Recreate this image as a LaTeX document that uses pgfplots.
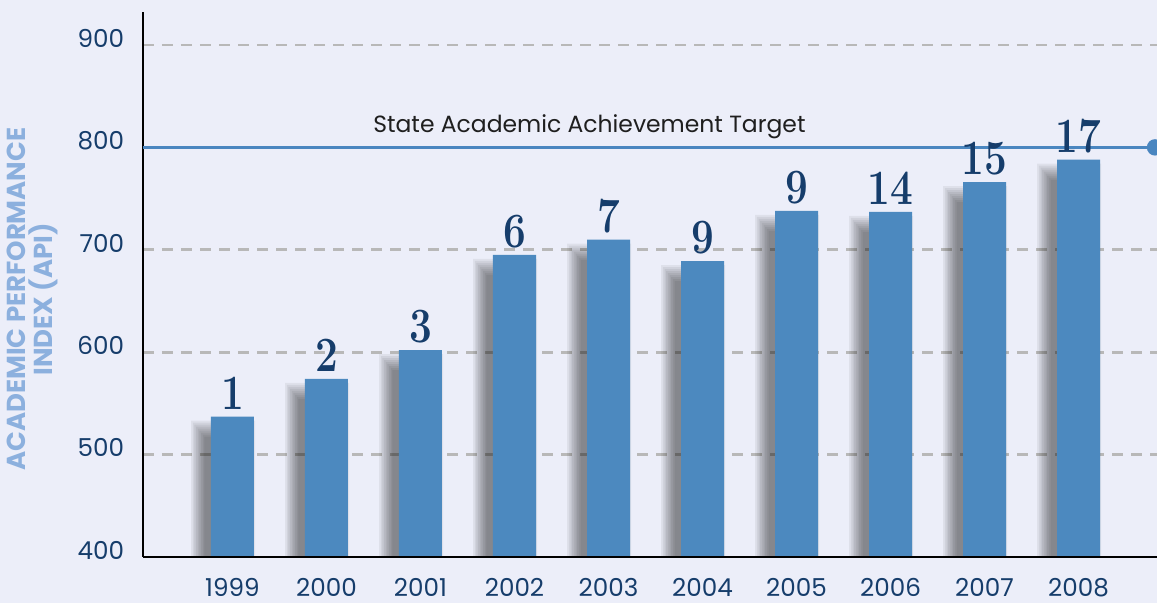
\documentclass[border=0pt]{standalone}
\usepackage{pgfplots}
\pgfplotsset{compat=1.18}
\usepackage{fontspec}
\newfontfamily\pop{Poppins}
\definecolor{bg}{HTML}{ECEEF9}
\definecolor{barc}{HTML}{4C89BF}
\definecolor{navy}{HTML}{163D6B}
\definecolor{lblue}{HTML}{8CB0DE}
\definecolor{tline}{HTML}{4A86C0}
\definecolor{gridc}{HTML}{B8B8B8}
\pgfplotstableread{
x y lab
0 537 1
1 574 2
2 602 3
3 695 6
4 710 7
5 689 9
6 738 9
7 737 14
8 766 15
9 788 17
}\api
\pgfplotsset{shad/.style 2 args={ybar, bar shift=-7pt, fill=black, draw=none, opacity=0.06, forget plot, yshift=#2, bar width=#1}}
\begin{document}
\begin{tikzpicture}
\useasboundingbox (0,0) rectangle (867.75pt,452.25pt);
\fill[bg] (0,0) rectangle (867.75pt,452.25pt);
\begin{axis}[
  at={(107.25pt,34.5pt)}, anchor=south west,
  scale only axis, width=760.5pt, height=408.75pt,
  xmin=-0.952, xmax=9.835, ymin=400, ymax=932.2,
  axis lines=left, axis line style={-, line width=2pt, black},
  xtick={0,...,9},
  xticklabels={1999,2000,2001,2002,2003,2004,2005,2006,2007,2008},
  ytick={400,500,...,900},
  major tick length=0pt,
  ymajorgrids,
  grid style={gridc, line width=2pt, dash pattern=on 8.25pt off 6pt},
  tick label style={font=\pop\fontsize{18.5}{20}\selectfont, text=navy},
  yticklabel style={anchor=east, inner sep=0pt, xshift=-14pt, yshift=5pt},
  xticklabel style={anchor=north, inner sep=0pt, yshift=-15.5pt},
  /pgf/number format/assume math mode=true,
  ylabel={ACADEMIC PERFORMANCE\\INDEX (API)},
  every axis y label/.style={at={(rel axis cs:0,0.473)}, xshift=-83pt, rotate=90, anchor=center, align=center, font=\pop\bfseries\fontsize{19.5}{20.5}\selectfont, text=lblue},
]
\addplot[shad={28pt}{-15pt}] table[x=x, y=y] {\api};
\addplot[shad={30.5pt}{-13.5pt}] table[x=x, y=y] {\api};
\addplot[shad={33pt}{-12pt}] table[x=x, y=y] {\api};
\addplot[shad={35.5pt}{-10.5pt}] table[x=x, y=y] {\api};
\addplot[shad={38pt}{-9pt}] table[x=x, y=y] {\api};
\addplot[shad={40.5pt}{-7.5pt}] table[x=x, y=y] {\api};
\addplot[shad={43pt}{-6pt}] table[x=x, y=y] {\api};
\addplot[shad={45.5pt}{-4.5pt}] table[x=x, y=y] {\api};
\addplot[shad={48pt}{-3pt}] table[x=x, y=y] {\api};
\addplot[ybar, bar width=32.25pt, bar shift=0pt, fill=barc, draw=none,
  nodes near coords={\scalebox{0.82}[1]{\pgfplotspointmeta}}, point meta=explicit symbolic,
  every node near coord/.style={anchor=south, inner sep=0pt, yshift=5pt, text=navy, font=\rmfamily\bfseries\fontsize{37}{40}\selectfont}]
  table[x=x, y=y, meta=lab] {\api};
\addplot[tline, line width=2.25pt, mark=*, mark indices={2}, mark size=5pt, mark options={fill=tline, draw=none}]
  coordinates {(-0.952,800) (9.814,800)};
\node[anchor=base west, inner sep=0pt, font=\pop\fontsize{17.6}{20}\selectfont, text=black!88] at (axis cs:1.495,814.4) {State Academic Achievement Target};
\draw[black, line width=2pt] (rel axis cs:0,0) -- (rel axis cs:1,0);
\end{axis}
\end{tikzpicture}
\end{document}
